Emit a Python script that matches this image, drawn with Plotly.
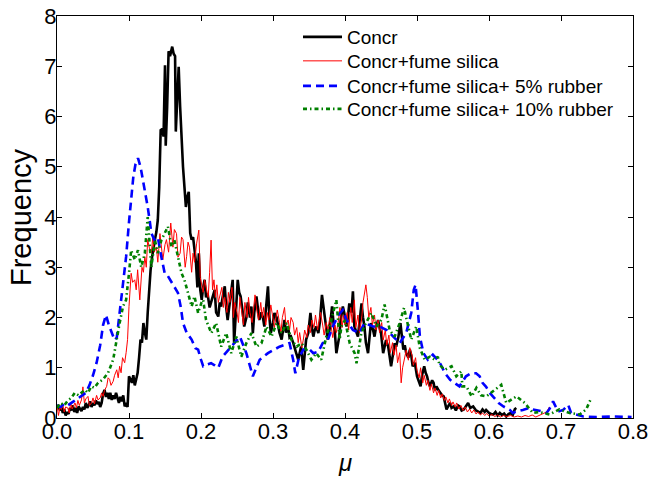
import plotly.graph_objects as go

# ---- Data ----
concr_mu = [0.000,0.002,0.004,0.006,0.008,0.010,0.012,0.014,0.016,0.018,0.020,0.022,0.024,0.026,0.028,0.030,0.032,0.034,0.036,0.038,
0.040,0.042,0.044,0.046,0.048,0.050,0.052,0.054,0.056,0.058,0.060,0.062,0.064,0.066,0.068,0.070,0.072,0.074,0.076,0.078,
0.080,0.082,0.084,0.086,0.088,0.090,0.092,0.094,0.096,0.098,0.100,0.102,0.104,0.106,0.108,0.110,0.112,0.114,0.116,0.118,
0.120,0.122,0.124,0.126,0.128,0.130,0.132,0.134,0.136,0.138,0.140,0.142,0.144,0.146,0.148,0.150,0.151,0.153,0.155,0.157,
0.159,0.160,0.162,0.164,0.165,0.167,0.169,0.171,0.173,0.175,0.177,0.179,0.181,0.183,0.185,0.187,0.189,0.191,0.193,0.195,
0.197,0.199,0.201,0.203,0.205,0.207,0.209,0.212,0.214,0.217,0.219,0.221,0.224,0.226,0.228,0.230,0.233,0.235,0.237,0.240,
0.242,0.244,0.246,0.248,0.251,0.253,0.255,0.258,0.260,0.263,0.265,0.268,0.270,0.272,0.274,0.277,0.279,0.281,0.284,0.286,
0.288,0.291,0.293,0.295,0.297,0.300,0.302,0.305,0.307,0.309,0.312,0.314,0.316,0.318,0.321,0.323,0.325,0.328,0.330,0.332,
0.335,0.337,0.339,0.342,0.344,0.346,0.349,0.352,0.354,0.356,0.358,0.360,0.363,0.365,0.368,0.370,0.372,0.374,0.376,0.379,
0.382,0.384,0.386,0.388,0.390,0.392,0.394,0.397,0.399,0.402,0.404,0.406,0.409,0.411,0.413,0.416,0.418,0.420,0.423,0.425,
0.427,0.429,0.432,0.434,0.436,0.439,0.441,0.443,0.446,0.448,0.450,0.453,0.455,0.457,0.460,0.462,0.464,0.467,0.469,0.471,
0.474,0.477,0.479,0.481,0.483,0.485,0.488,0.490,0.492,0.494,0.497,0.500,0.502,0.505,0.507,0.510,0.512,0.514,0.516,0.518,
0.521,0.523,0.525,0.527,0.530,0.532,0.535,0.537,0.539,0.541,0.544,0.546,0.548,0.551,0.554,0.557,0.559,0.562,0.565,0.568,
0.571,0.574,0.578,0.582,0.585,0.588,0.591,0.594,0.596,0.600,0.603,0.606,0.609,0.612,0.615,0.618,0.621,0.624,0.627,0.630,
0.633,0.636,0.638]
concr_freq = [0.20,0.26,0.15,0.22,0.10,0.18,0.05,0.12,0.08,0.20,0.15,0.25,0.12,0.20,0.10,0.23,0.18,0.14,0.22,0.17,
0.30,0.20,0.25,0.33,0.22,0.30,0.25,0.35,0.28,0.32,0.22,0.30,0.48,0.56,0.42,0.50,0.38,0.50,0.36,0.45,
0.38,0.50,0.40,0.30,0.42,0.33,0.45,0.23,0.30,0.22,0.83,0.78,0.70,0.85,0.65,0.77,0.90,1.20,1.56,1.50,
1.89,1.70,1.56,2.10,2.60,2.95,3.20,3.41,3.55,3.70,3.94,4.60,5.73,5.75,5.60,7.02,5.42,6.20,7.30,7.20,
7.38,7.39,7.25,7.20,5.70,6.40,6.99,6.20,5.50,5.00,4.60,4.20,4.40,4.50,3.68,3.55,3.60,3.30,3.10,2.60,
3.28,2.55,2.35,2.60,2.75,2.40,2.48,2.20,2.29,2.45,2.55,2.10,2.02,2.30,2.22,2.40,2.62,2.20,1.95,2.30,
2.55,2.75,1.49,2.10,2.75,2.50,2.42,2.10,1.82,2.00,2.30,2.00,2.22,1.69,2.10,2.42,2.20,1.95,2.10,2.00,
1.82,2.30,2.62,2.00,1.69,1.90,2.09,2.00,1.82,1.70,1.56,1.80,1.95,1.70,1.82,1.60,1.62,1.50,1.42,1.30,
1.16,1.30,1.42,0.96,1.30,1.56,1.69,2.09,1.80,1.62,1.75,1.82,1.69,1.90,2.45,2.20,1.95,1.80,1.56,1.80,
2.22,1.90,1.69,1.29,1.45,1.62,1.95,2.22,2.09,1.82,2.00,2.28,2.10,2.52,1.82,1.70,1.62,1.90,2.28,2.00,
1.82,1.50,1.29,1.60,1.89,1.75,1.62,1.80,1.95,1.80,1.69,1.29,1.40,1.55,1.42,1.20,1.03,1.30,1.49,1.42,
1.60,1.89,1.60,1.36,1.45,1.29,1.20,1.36,1.25,1.03,1.10,0.83,0.75,0.63,0.85,1.03,0.90,0.83,0.70,0.63,
0.75,0.70,0.55,0.63,0.55,0.50,0.45,0.43,0.30,0.17,0.25,0.30,0.20,0.23,0.15,0.25,0.23,0.15,0.17,0.25,
0.30,0.20,0.23,0.15,0.13,0.10,0.17,0.12,0.16,0.10,0.08,0.07,0.12,0.05,0.10,0.06,0.09,0.03,0.08,0.10,
0.06,0.18,0.20]

silica_mu = [0.000,0.002,0.004,0.006,0.008,0.010,0.012,0.015,0.017,0.019,0.021,0.023,0.025,0.027,0.029,0.031,0.034,0.036,0.038,0.040,
0.043,0.045,0.048,0.050,0.052,0.055,0.057,0.060,0.062,0.064,0.066,0.069,0.071,0.073,0.075,0.078,0.080,0.083,0.085,0.087,
0.089,0.091,0.094,0.096,0.098,0.100,0.102,0.103,0.105,0.108,0.110,0.112,0.115,0.118,0.120,0.122,0.124,0.126,0.128,0.131,
0.133,0.135,0.138,0.140,0.143,0.145,0.147,0.150,0.152,0.155,0.158,0.161,0.163,0.166,0.168,0.171,0.173,0.175,0.178,0.180,
0.182,0.184,0.187,0.189,0.191,0.194,0.197,0.199,0.201,0.203,0.205,0.207,0.210,0.212,0.214,0.216,0.218,0.220,0.222,0.224,
0.227,0.229,0.231,0.233,0.236,0.238,0.240,0.243,0.245,0.247,0.250,0.252,0.254,0.257,0.259,0.261,0.264,0.266,0.268,0.271,
0.273,0.275,0.278,0.280,0.283,0.285,0.287,0.290,0.292,0.294,0.297,0.299,0.302,0.304,0.306,0.309,0.311,0.313,0.316,0.318,
0.321,0.323,0.325,0.328,0.330,0.333,0.335,0.337,0.340,0.342,0.344,0.347,0.349,0.352,0.354,0.357,0.359,0.362,0.364,0.366,
0.369,0.371,0.374,0.376,0.379,0.381,0.383,0.386,0.388,0.391,0.393,0.396,0.398,0.400,0.403,0.405,0.408,0.410,0.413,0.415,
0.418,0.420,0.423,0.425,0.427,0.429,0.431,0.433,0.436,0.438,0.441,0.443,0.446,0.448,0.451,0.453,0.456,0.458,0.461,0.463,
0.466,0.468,0.471,0.473,0.476,0.478,0.480,0.483,0.485,0.488,0.490,0.493,0.495,0.498,0.500,0.503,0.505,0.508,0.510,0.513,
0.515,0.518,0.520,0.523,0.525,0.528,0.530,0.533,0.535,0.538,0.540,0.543,0.545,0.548,0.550,0.553,0.555,0.558,0.561,0.564,
0.567,0.570,0.573,0.576,0.579,0.582,0.585,0.588,0.591,0.594,0.597,0.600,0.604,0.608,0.612,0.616,0.620,0.625,0.630,0.635,
0.640,0.645,0.650,0.655,0.660,0.665,0.670,0.675,0.680,0.684]
silica_freq = [0.25,0.05,0.20,0.17,0.28,0.12,0.22,0.20,0.10,0.30,0.18,0.25,0.30,0.20,0.35,0.25,0.36,0.62,0.30,0.38,
0.43,0.25,0.30,0.40,0.28,0.45,0.36,0.40,0.50,0.43,0.55,0.63,0.80,0.77,0.65,0.73,0.85,0.96,0.80,1.03,
0.90,1.20,1.10,1.30,1.56,2.22,2.60,2.88,2.70,2.75,2.55,2.95,2.35,3.00,2.90,3.21,3.00,3.55,3.40,3.28,
3.60,3.30,3.40,3.10,3.67,3.40,3.15,3.45,3.55,3.30,3.88,3.40,3.75,3.67,3.20,3.28,3.60,3.55,3.00,3.21,
3.50,3.40,2.90,3.28,3.10,3.48,3.74,2.80,2.68,2.50,2.75,2.60,2.40,2.90,3.54,2.55,2.75,2.40,2.65,2.30,
2.50,2.60,2.20,2.40,2.10,2.50,2.30,2.60,2.00,2.30,2.10,1.90,2.40,2.10,1.85,2.30,2.00,2.40,2.10,1.90,
2.20,2.45,2.10,1.95,2.30,2.00,2.20,1.85,2.10,1.95,2.25,2.05,1.80,2.00,2.15,1.90,1.70,2.00,2.20,1.85,
1.95,1.75,2.00,1.90,1.65,1.80,1.50,1.70,1.40,1.55,1.75,1.60,1.85,1.70,1.95,1.80,2.05,1.75,1.95,2.10,
1.85,1.65,1.90,1.75,2.00,1.80,1.60,1.85,1.70,1.95,2.20,1.80,2.05,1.85,2.10,1.75,2.20,1.90,2.35,1.80,
2.05,1.70,1.95,2.30,2.50,2.65,2.40,2.00,2.20,1.85,2.05,1.75,1.95,1.70,1.90,1.55,1.75,1.45,1.65,1.30,
1.50,1.25,1.45,1.10,1.30,0.70,1.00,1.20,1.35,1.15,1.40,1.25,1.05,1.20,0.95,0.80,1.00,0.70,0.85,0.65,
0.75,0.55,0.68,0.50,0.60,0.45,0.55,0.40,0.48,0.35,0.42,0.30,0.38,0.25,0.32,0.22,0.30,0.18,0.25,0.15,
0.22,0.12,0.18,0.10,0.16,0.08,0.12,0.06,0.10,0.05,0.09,0.04,0.07,0.03,0.06,0.02,0.05,0.03,0.05,0.02,
0.04,0.02,0.05,0.03,0.06,0.02,0.05,0.08,0.12,0.22]

rub5_mu = [0.000,0.005,0.010,0.015,0.020,0.025,0.030,0.035,0.040,0.045,0.050,0.055,0.060,0.064,0.068,0.072,0.076,0.080,0.083,0.086,
0.089,0.093,0.096,0.100,0.103,0.106,0.109,0.1125,0.116,0.1195,0.123,0.126,0.129,0.131,0.135,0.140,0.145,0.1496,0.153,0.157,
0.162,0.168,0.172,0.175,0.180,0.187,0.192,0.196,0.200,0.203,0.207,0.214,0.219,0.224,0.230,0.238,0.242,0.254,0.263,0.272,
0.2815,0.293,0.309,0.323,0.328,0.331,0.336,0.342,0.349,0.356,0.363,0.369,0.376,0.383,0.391,0.397,0.402,0.411,0.420,0.427,
0.439,0.448,0.458,0.467,0.476,0.485,0.492,0.4955,0.498,0.5015,0.504,0.509,0.515,0.522,0.531,0.539,0.546,0.552,0.559,0.568,
0.575,0.582,0.587,0.591,0.596,0.601,0.6135,0.620,0.629,0.633,0.638,0.647,0.656,0.661,0.666,0.675,0.680,0.684,0.689,0.696,
0.703,0.710,0.714,0.721,0.726,0.731,0.749,0.772,0.798]
rub5_freq = [0.25,0.22,0.28,0.25,0.30,0.35,0.40,0.45,0.50,0.65,0.85,1.10,1.45,1.85,2.05,1.85,1.70,1.55,1.60,1.95,
2.35,2.80,3.21,3.90,4.34,4.80,5.05,5.17,5.00,4.74,4.50,4.20,3.90,3.68,3.55,3.60,3.20,2.88,2.85,2.75,
2.65,2.49,2.20,1.89,1.70,1.56,1.39,1.36,1.16,1.03,1.06,1.09,1.05,1.00,1.22,1.35,1.42,1.62,1.29,0.83,
1.16,1.29,1.42,1.49,1.16,0.89,1.20,1.36,1.39,1.29,1.32,1.49,1.55,1.82,2.05,2.15,1.95,1.75,1.69,1.89,
1.82,1.82,1.75,1.62,1.49,1.69,2.09,2.55,2.65,2.09,1.62,1.29,1.16,1.26,1.12,0.89,0.76,0.70,0.63,0.83,
0.89,0.89,0.83,0.70,0.62,0.50,0.30,0.23,0.16,0.10,0.13,0.16,0.20,0.17,0.16,0.13,0.10,0.18,0.33,0.13,
0.16,0.26,0.10,0.07,0.05,0.03,0.02,0.03,0.02]

rub10_mu = [0.000,0.005,0.010,0.015,0.020,0.0246,0.030,0.0385,0.043,0.0477,0.052,0.057,0.064,0.071,0.078,0.0825,0.087,0.0917,0.096,0.100,
0.103,0.108,0.1125,0.117,0.122,0.126,0.131,0.136,0.140,0.145,0.1496,0.154,0.159,0.163,0.168,0.173,0.177,0.182,0.187,0.191,
0.196,0.2005,0.203,0.207,0.2144,0.221,0.228,0.235,0.242,0.249,0.256,0.263,0.270,0.277,0.284,0.291,0.298,0.305,0.312,0.319,
0.3255,0.333,0.3394,0.3464,0.3533,0.360,0.367,0.374,0.381,0.388,0.3926,0.395,0.400,0.4065,0.4134,0.416,0.4227,0.429,0.4366,0.4436,
0.4505,0.455,0.462,0.469,0.4759,0.482,0.4875,0.492,0.499,0.504,0.5107,0.518,0.5246,0.529,0.531,0.5385,0.548,0.5546,0.5616,0.563,
0.5686,0.576,0.5825,0.589,0.5964,0.6056,0.617,0.624,0.638,0.6496,0.661,0.670,0.684,0.6976,0.712,0.726,0.735,0.742]
rub10_freq = [0.20,0.30,0.25,0.35,0.40,0.50,0.45,0.56,0.50,0.63,0.60,0.70,0.77,0.90,1.16,1.56,1.89,2.22,2.35,2.88,
3.34,3.15,3.34,3.00,3.28,4.00,3.00,3.54,3.28,3.54,3.67,3.81,3.41,3.54,3.21,2.88,2.75,2.49,2.22,2.42,
2.09,2.29,2.35,1.95,1.69,1.89,1.42,1.69,1.29,1.62,1.22,1.49,1.69,1.42,1.49,1.82,1.62,1.89,1.69,1.89,
1.56,1.42,1.49,1.36,1.16,1.29,1.16,1.62,1.95,2.35,1.56,1.82,1.95,1.49,1.29,1.09,1.69,1.89,2.09,1.82,
1.95,2.26,1.75,1.62,1.89,2.19,1.82,1.56,1.82,1.39,1.16,1.22,1.16,1.22,1.06,0.96,1.03,0.83,0.93,0.63,
0.63,0.43,0.60,0.45,0.43,0.53,0.66,0.30,0.43,0.30,0.10,0.12,0.07,0.17,0.10,0.07,0.17,0.40]

series_names = ["Concr", "Concr+fume silica", "Concr+fume silica+ 5% rubber", "Concr+fume silica+ 10% rubber"]
x_tick_vals = [0.0, 0.1, 0.2, 0.3, 0.4, 0.5, 0.6, 0.7, 0.8]
x_tick_text = ["0.0", "0.1", "0.2", "0.3", "0.4", "0.5", "0.6", "0.7", "0.8"]
y_tick_vals = [0, 1, 2, 3, 4, 5, 6, 7, 8]
x_title = "<i>μ</i>"
y_title = "Frequency"

FONT = "Liberation Sans, Arial, sans-serif"
W, H = 651, 479
ML, MR, MT, MB = 57, 18, 16, 61
PW, PH = W - ML - MR, H - MT - MB

fig = go.Figure()
fig.add_trace(go.Scatter(x=concr_mu, y=concr_freq, mode="lines", name=series_names[0], legend="legend",
                         line=dict(color="#000000", width=2.6)))
fig.add_trace(go.Scatter(x=silica_mu, y=silica_freq, mode="lines", name=series_names[1], legend="legend2",
                         line=dict(color="#ff0000", width=1)))
fig.add_trace(go.Scatter(x=rub5_mu, y=rub5_freq, mode="lines", name=series_names[2], legend="legend3",
                         line=dict(color="#0000ff", width=2.6, dash="8px,5px")))
fig.add_trace(go.Scatter(x=rub10_mu, y=rub10_freq, mode="lines", name=series_names[3], legend="legend4",
                         line=dict(color="#008000", width=2.6, dash="4px,3px,1.5px,3px")))

axis_common = dict(showline=True, linecolor="black", linewidth=1, mirror="ticks",
                   ticks="inside", ticklen=5, tickwidth=1, tickcolor="black",
                   showgrid=False, zeroline=False,
                   tickfont=dict(family=FONT, size=22, color="black"))

fig.update_xaxes(range=[0, 0.8], tickvals=x_tick_vals, ticktext=x_tick_text, ticklabelstandoff=-6,
                 **axis_common)
fig.update_yaxes(range=[0, 8], tickvals=y_tick_vals, ticklabelstandoff=-5,
                 **axis_common)

# axis titles
fig.add_annotation(text=y_title, xref="paper", yref="paper", x=(21 - ML) / PW, y=0.5,
                   xanchor="center", yanchor="middle", textangle=-90, showarrow=False,
                   font=dict(family=FONT, size=29, color="black"))
fig.add_annotation(text=x_title, xref="paper", yref="paper", x=0.5, y=-(462 - (H - MB)) / PH,
                   xanchor="center", yanchor="middle", showarrow=False,
                   font=dict(family=FONT, size=24, color="black"))

legend_rows = [37, 61, 86, 109]  # row centres, px from top
leg_common = dict(x=(298 - ML) / PW, xanchor="left", yanchor="middle",
                  bgcolor="rgba(0,0,0,0)", borderwidth=0, itemwidth=39,
                  font=dict(family=FONT, size=19, color="black"))

fig.update_layout(
    width=W, height=H,
    margin=dict(l=ML, r=MR, t=MT, b=MB, autoexpand=False),
    paper_bgcolor="white", plot_bgcolor="white",
    font=dict(family=FONT, color="black"),
    showlegend=True,
    legend=dict(y=(H - MB - legend_rows[0]) / PH, **leg_common),
    legend2=dict(y=(H - MB - legend_rows[1]) / PH, **leg_common),
    legend3=dict(y=(H - MB - legend_rows[2]) / PH, **leg_common),
    legend4=dict(y=(H - MB - legend_rows[3]) / PH, **leg_common),
)

fig.write_html("out.html")
